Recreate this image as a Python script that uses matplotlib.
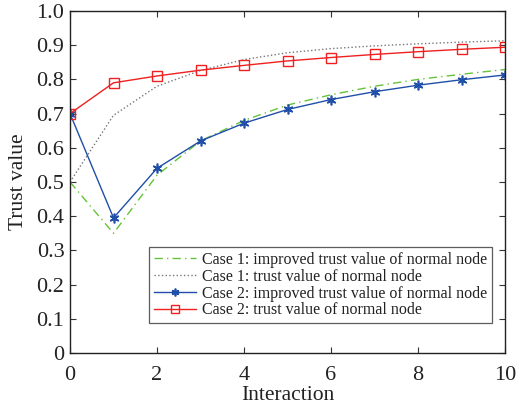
import numpy as np
import matplotlib.pyplot as plt

plt.rcParams['font.family'] = ['Liberation Serif', 'DejaVu Serif']

interaction = np.arange(0, 11)
case1_improved = [0.50, 0.35, 0.52, 0.62, 0.68, 0.725, 0.755, 0.78, 0.80, 0.815, 0.829]
case1_trust = [0.50, 0.695, 0.78, 0.826, 0.858, 0.878, 0.89, 0.898, 0.904, 0.909, 0.913]
case2_improved = [0.70, 0.395, 0.54, 0.62, 0.672, 0.712, 0.741, 0.764, 0.783, 0.799, 0.813]
case2_trust = [0.70, 0.79, 0.81, 0.827, 0.841, 0.854, 0.864, 0.873, 0.881, 0.888, 0.894]
yticks = [0, 0.1, 0.2, 0.3, 0.4, 0.5, 0.6, 0.7, 0.8, 0.9, 1.0]
ylabels = ['0', '0.1', '0.2', '0.3', '0.4', '0.5', '0.6', '0.7', '0.8', '0.9', '1.0']

txt = '#222222'
fig = plt.figure(figsize=(5.17, 4.11), dpi=100)
ax = fig.add_axes([70/517, 1-353/411, 435/517, 342/411])

ax.plot(interaction, case1_improved, color='#66c23a', lw=1.0,
        dashes=(6, 3, 1, 3), label='Case 1: improved trust value of normal node')
ax.plot(interaction, case1_trust, color='#777777', linestyle=':', lw=1.0,
        label='Case 1: trust value of normal node')
ax.plot(interaction, case2_improved, color='#1f4fa8', linestyle='-', lw=1.0,
        marker=(6, 2, 0), markersize=7, markeredgewidth=1.2,
        label='Case 2: improved trust value of normal node')
ax.plot(interaction, case2_trust, color='#ee2020', linestyle='-', lw=1.0,
        marker='s', markersize=7, markerfacecolor='none', markeredgewidth=1.0,
        label='Case 2: trust value of normal node')

ax.set_xlim(0, 10)
ax.set_ylim(0, 1.0)
ax.set_xticks([0, 2, 4, 6, 8, 10])
ax.set_yticks(yticks)
ax.set_yticklabels(ylabels)
ax.tick_params(direction='in', top=True, right=True, labelsize=16, length=4,
               color='#333333', labelcolor=txt)
ax.tick_params(axis='x', pad=9)
ax.tick_params(axis='y', pad=4)
for s in ax.spines.values():
    s.set_linewidth(1.0)
    s.set_color('#222222')

ax.set_xlabel('Interaction', fontsize=15.5, labelpad=1, color=txt)
ax.set_ylabel('Trust value', fontsize=15.5, labelpad=6, color=txt)

leg = ax.legend(loc='lower right', bbox_to_anchor=(0.97, 0.087), fontsize=11.5,
                frameon=True, fancybox=False, handlelength=2.6, handletextpad=0.4,
                borderpad=0.3, labelspacing=0.05, borderaxespad=0, numpoints=1,
                markerscale=0.8)
leg.get_frame().set_edgecolor('#333333')
leg.get_frame().set_linewidth(0.9)
for t in leg.get_texts():
    t.set_color(txt)

fig.savefig('out.png', dpi=100)
